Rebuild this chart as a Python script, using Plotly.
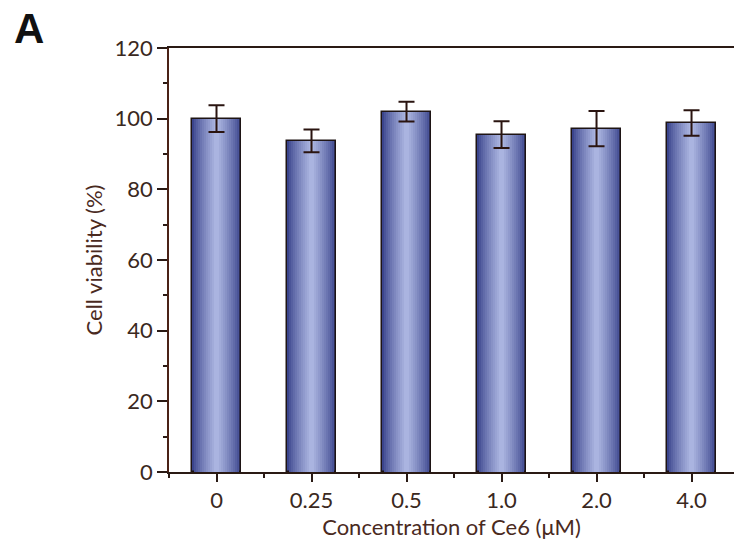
import plotly.graph_objects as go

categories = ["0", "0.25", "0.5", "1.0", "2.0", "4.0"]
viability = [100.0, 93.7, 102.0, 95.5, 97.2, 98.8]
errors = [3.8, 3.2, 2.8, 3.8, 5.0, 3.6]
y_ticks = [0, 20, 40, 60, 80, 100, 120]

xpos = list(range(len(categories)))

fig = go.Figure()

# Gradient-like fill: overlay progressively narrower, lighter bars
edge = (58, 68, 140)
center = (170, 180, 224)
n_layers = 12
full_w = 0.52
for i in range(n_layers):
    t = i / (n_layers - 1)
    tt = t ** 0.8
    c = tuple(int(edge[k] + (center[k] - edge[k]) * tt) for k in range(3))
    w = full_w * (1 - i / n_layers)
    fig.add_trace(go.Bar(
        x=xpos, y=viability, width=w,
        marker=dict(color="rgb(%d,%d,%d)" % c,
                    line=dict(color="#1e1414" if i == 0 else "rgba(0,0,0,0)",
                              width=1.5 if i == 0 else 0)),
        showlegend=False, hoverinfo="skip",
    ))

# Error bars on top
fig.add_trace(go.Scatter(
    x=xpos, y=viability, mode="markers",
    marker=dict(size=1, color="rgba(0,0,0,0)"),
    error_y=dict(type="data", array=errors, visible=True,
                 color="#2a1410", thickness=2, width=8),
    showlegend=False,
))

font_family = "Lato, 'Open Sans', sans-serif"
txt_color = "#3a2820"

fig.update_layout(
    width=734, height=545,
    margin=dict(l=169, r=0, t=48, b=73),
    plot_bgcolor="white", paper_bgcolor="white",
    barmode="overlay", bargap=0,
    font=dict(family=font_family, size=22, color=txt_color),
    xaxis=dict(
        range=[-0.5, 5.447], tickmode="array", tickvals=xpos, ticktext=categories,
        showline=True, linecolor="#2a1a14", linewidth=2, mirror=True,
        ticks="outside", ticklen=8, tickwidth=2, tickcolor="#2a1a14",
        minor=dict(tick0=0.5, dtick=1, ticks="outside", ticklen=4, tickwidth=2,
                   tickcolor="#2a1a14", showgrid=False),
        showgrid=False, zeroline=False,
        title=dict(text="Concentration of Ce6 (μM)", standoff=3,
                   font=dict(size=22, color="#4a2a1e")),
        tickfont=dict(size=22, color=txt_color),
    ),
    yaxis=dict(
        range=[0, 120], tickmode="array", tickvals=y_ticks,
        showline=True, linecolor="#4a2216", linewidth=1.5,
        ticks="outside", ticklen=10, tickwidth=2, tickcolor="#2a1a14",
        minor=dict(tick0=10, dtick=20, ticks="outside", ticklen=4, tickwidth=2,
                   tickcolor="#2a1a14", showgrid=False),
        showgrid=False, zeroline=False,
        title=dict(text="Cell viability (%)", standoff=6,
                   font=dict(size=22, color="#4a2a1e")),
        tickfont=dict(size=22, color=txt_color),
    ),
    annotations=[dict(
        text="<b>A</b>", xref="paper", yref="paper", x=-157/565, y=1 - 6/424,
        xanchor="left", yanchor="bottom", showarrow=False,
        font=dict(family="Liberation Sans, Arial, sans-serif", size=42, color="#111111"),
    )],
)

fig.write_html("out.html")
